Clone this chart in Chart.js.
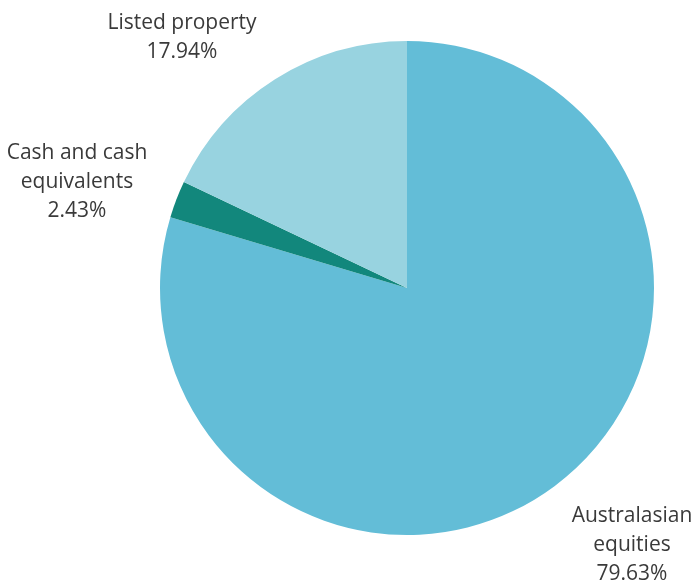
<!DOCTYPE html>
<html>
<head>
<meta charset="utf-8">
<script src="https://cdn.jsdelivr.net/npm/chart.js@4"></script>
<style>
  html, body { margin: 0; padding: 0; background: #fff; }
  #wrap { width: 695px; height: 580px; }
</style>
</head>
<body>
<div id="wrap"><canvas id="chart" width="695" height="580"></canvas></div>
<script>
// data
const categories = ['Australasian equities', 'Cash and cash equivalents', 'Listed property'];
const values = [79.63, 2.43, 17.94];
const labelLines = [
  ['Australasian', 'equities'],
  ['Cash and cash', 'equivalents'],
  ['Listed property']
];
const colors = ['#63bdd7', '#12877c', '#98d3e0'];

// where each label block sits (centre x, first baseline y)
const labelSpots = [
  { x: 632, y: 522 },
  { x: 77, y: 159 },
  { x: 182, y: 29 }
];

// draws the outside labels
const outsideLabels = {
  id: 'outsideLabels',
  afterDraw(chart) {
    const ctx = chart.ctx;
    ctx.save();
    ctx.font = '21px "Open Sans", "Noto Sans", sans-serif';
    ctx.fillStyle = '#3a3a3a';
    ctx.textAlign = 'center';
    ctx.textBaseline = 'alphabetic';
    const lh = 29;
    chart.data.datasets[0].data.forEach((v, i) => {
      const lines = labelLines[i].concat([v.toFixed(2) + '%']);
      const p = labelSpots[i];
      lines.forEach((t, j) => ctx.fillText(t, p.x, p.y + j * lh));
    });
    ctx.restore();
  }
};

new Chart(document.getElementById('chart').getContext('2d'), {
  type: 'pie',
  data: {
    labels: categories,
    datasets: [{
      data: values,
      backgroundColor: colors,
      borderWidth: 0
    }]
  },
  options: {
    responsive: false,
    animation: false,
    layout: { padding: { left: 160, right: 41, top: 41, bottom: 45 } },
    plugins: {
      legend: { display: false },
      tooltip: { enabled: false }
    }
  },
  plugins: [outsideLabels]
});
</script>
</body>
</html>
